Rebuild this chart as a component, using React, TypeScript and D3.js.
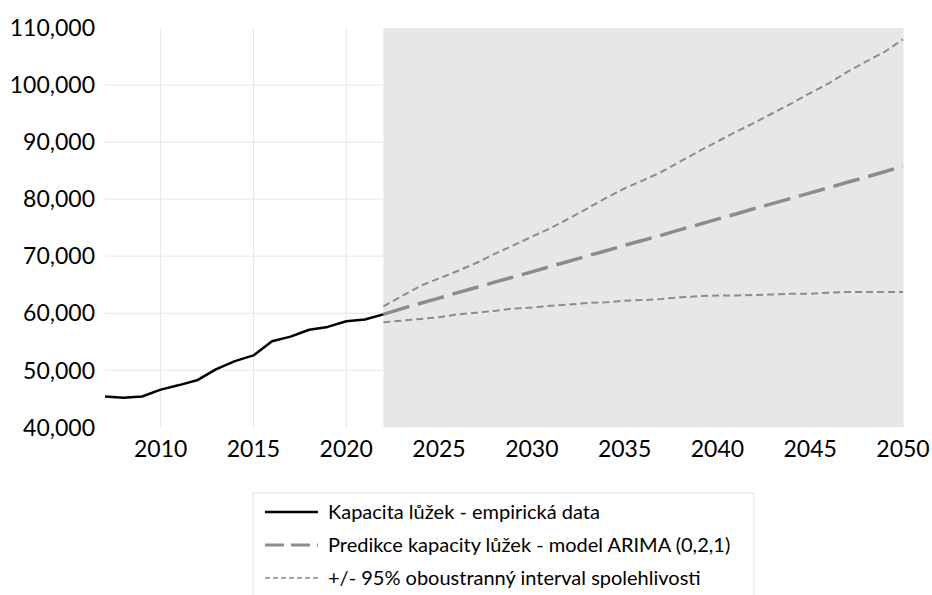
import React from "react";
import * as d3 from "d3";

const empYears = [2007, 2008, 2009, 2010, 2011, 2012, 2013, 2014, 2015, 2016, 2017, 2018, 2019, 2020, 2021, 2022];
const empValues = [45400, 45200, 45400, 46600, 47400, 48300, 50200, 51600, 52600, 55100, 55900, 57100, 57600, 58600, 58900, 59800];

const fcYears = [2022, 2023, 2024, 2025, 2026, 2027, 2028, 2029, 2030, 2031, 2032, 2033, 2034, 2035, 2036, 2037, 2038, 2039, 2040, 2041, 2042, 2043, 2044, 2045, 2046, 2047, 2048, 2049, 2050];
const fcMean = [59800, 60800, 61750, 62650, 63600, 64500, 65450, 66350, 67250, 68200, 69100, 70050, 70950, 71900, 72800, 73700, 74650, 75550, 76500, 77400, 78350, 79250, 80150, 81100, 82000, 82950, 83850, 84800, 85800];
const fcUpper = [61200, 63000, 64800, 66100, 67400, 68800, 70400, 71900, 73400, 74900, 76600, 78400, 80200, 81900, 83300, 84800, 86600, 88400, 90100, 91800, 93400, 95100, 96800, 98600, 100300, 102300, 104100, 105800, 108000];
const fcLower = [58400, 58700, 59000, 59300, 59800, 60100, 60400, 60800, 61000, 61300, 61500, 61800, 61900, 62200, 62300, 62500, 62800, 63000, 63100, 63100, 63200, 63300, 63400, 63400, 63600, 63700, 63700, 63700, 63700];

const xTicks = [2010, 2015, 2020, 2025, 2030, 2035, 2040, 2045, 2050];
const yTicks = [40000, 50000, 60000, 70000, 80000, 90000, 100000, 110000];
const forecastStart = 2022;

const legendItems = [
  "Kapacita lůžek - empirická data",
  "Predikce kapacity lůžek - model ARIMA (0,2,1)",
  "+/- 95% oboustranný interval spolehlivosti",
];

const W = 932;
const H = 595;
const FONT = "Lato, 'Open Sans', sans-serif";

export default function App() {
  const x = d3.scaleLinear().domain([2007, 2050]).range([105, 903]);
  const y = d3.scaleLinear().domain([40000, 110000]).range([427.3, 28]);
  const line = d3
    .line<[number, number]>()
    .x((d) => x(d[0]))
    .y((d) => y(d[1]));
  const fmt = d3.format(",");
  const zip = (a: number[], b: number[]) => a.map((v, i) => [v, b[i]] as [number, number]);

  const grey = "#8c8c8c";
  const styles = [
    { stroke: "#000", width: 2.5, dash: undefined as string | undefined },
    { stroke: grey, width: 3, dash: "19,7" },
    { stroke: grey, width: 1.5, dash: "5,3" },
  ];

  return (
    <svg width={W} height={H} style={{ position: "absolute", left: 0, top: 0 }} fontFamily={FONT}>
      <rect width={W} height={H} fill="#fff" />
      {/* grid */}
      {yTicks.slice(1, -1).map((t) => (
        <line key={t} x1={x(2007)} x2={x(2050)} y1={y(t)} y2={y(t)} stroke="#e6e6e6" strokeWidth={1} />
      ))}
      {xTicks.map((t) => (
        <line key={t} x1={x(t)} x2={x(t)} y1={y(110000)} y2={y(40000)} stroke="#e6e6e6" strokeWidth={1} />
      ))}
      {/* forecast shade */}
      <rect
        x={x(forecastStart)}
        y={y(110000)}
        width={x(2050) - x(forecastStart)}
        height={y(40000) - y(110000)}
        fill="#e7e7e7"
      />
      {/* axis labels */}
      {yTicks.map((t) => (
        <text key={t} x={95} y={y(t)} dy="0.36em" textAnchor="end" fontSize={23} fill="#000">
          {fmt(t)}
        </text>
      ))}
      {xTicks.map((t) => (
        <text key={t} x={x(t)} y={449} dy="0.36em" textAnchor="middle" fontSize={23} fill="#000">
          {t}
        </text>
      ))}
      {/* lines */}
      <path d={line(zip(fcYears, fcUpper)) || ""} fill="none" stroke={grey} strokeWidth={2} strokeDasharray="7,4" />
      <path d={line(zip(fcYears, fcLower)) || ""} fill="none" stroke={grey} strokeWidth={2} strokeDasharray="7,4" />
      <path d={line(zip(fcYears, fcMean)) || ""} fill="none" stroke={grey} strokeWidth={3.5} strokeDasharray="27,9" />
      <path d={line(zip(empYears, empValues)) || ""} fill="none" stroke="#000" strokeWidth={2.5} strokeLinejoin="round" />
      {/* legend */}
      <rect x={253} y={493} width={501} height={110} fill="#fff" stroke="#e0e0e0" strokeWidth={1} />
      {legendItems.map((label, i) => {
        const cy = 512 + i * 33;
        const s = styles[i];
        return (
          <g key={label}>
            <line x1={265} x2={318} y1={cy} y2={cy} stroke={s.stroke} strokeWidth={s.width} strokeDasharray={s.dash} />
            <text x={328} y={cy} dy="0.36em" fontSize={20} fill="#000">
              {label}
            </text>
          </g>
        );
      })}
    </svg>
  );
}
